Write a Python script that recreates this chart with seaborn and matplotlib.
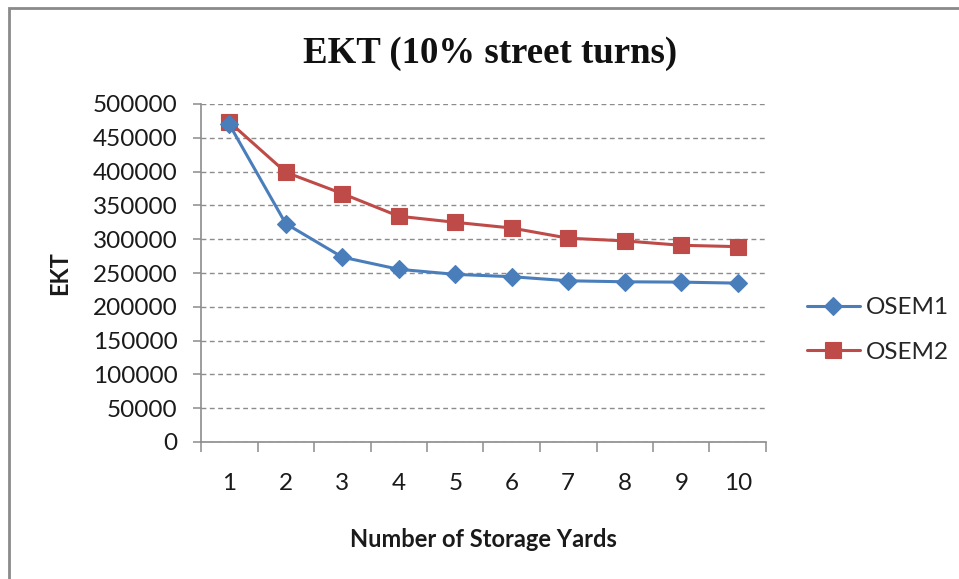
import matplotlib
matplotlib.use("Agg")
import matplotlib.pyplot as plt
import matplotlib.patches as mpatches
import numpy as np
import pandas as pd
import seaborn as sns

# Number of storage yards and expected kilometres travelled per scheme
yards = [1, 2, 3, 4, 5, 6, 7, 8, 9, 10]
osem1 = [470000, 323000, 273500, 255500, 248000, 244500, 238500, 237000, 236500, 235000]
osem2 = [473500, 399000, 367500, 334000, 325000, 316500, 301500, 297500, 291000, 289000]
series_names = ["OSEM1", "OSEM2"]
y_ticks = [0, 50000, 100000, 150000, 200000, 250000, 300000, 350000, 400000, 450000, 500000]

title_text = "EKT (10% street turns)"
x_label = "Number of Storage Yards"
y_label = "EKT"

df = pd.DataFrame({
    "yards": yards * 2,
    "EKT": osem1 + osem2,
    "series": [series_names[0]] * len(yards) + [series_names[1]] * len(yards),
})

sns.set_theme(style="white")
plt.rcParams["font.family"] = ["Lato", "DejaVu Sans"]

W, H = 959, 579
fig = plt.figure(figsize=(W / 100, H / 100), dpi=100)
fig.patch.set_facecolor("white")

# outer chart frame
fig.patches.append(mpatches.Rectangle((9 / W, -0.1), 1.2, 1 - 8 / H + 0.1,
                                      transform=fig.transFigure, fill=False,
                                      edgecolor="#8a8a8a", linewidth=2.0))

ax = fig.add_axes([201 / W, 1 - 442 / H, (766 - 201) / W, (442 - 104) / H])

palette = {"OSEM1": "#4a7ebb", "OSEM2": "#be4b48"}
markers = {"OSEM1": "D", "OSEM2": "s"}
sizes = {"OSEM1": 9, "OSEM2": 12}
for name in series_names:
    sub = df[df["series"] == name]
    sns.lineplot(data=sub, x="yards", y="EKT", ax=ax, color=palette[name],
                 marker=markers[name], markersize=sizes[name], markeredgewidth=0.8,
                 markeredgecolor=palette[name], linewidth=2.2, label=name,
                 legend=False, zorder=3 if name == "OSEM1" else 2)

ax.set_xlim(0.5, 10.5)
ax.set_ylim(0, 500000)
ax.set_yticks(y_ticks)
ax.set_yticklabels([str(v) for v in y_ticks])
ax.set_xticks(yards)
ax.set_xticklabels([str(v) for v in yards])
ax.xaxis.set_minor_locator(matplotlib.ticker.FixedLocator(np.arange(0.5, 10.6, 1.0)))

ax.grid(axis="y", linestyle=(0, (3.5, 2.5)), color="#8c8c8c", linewidth=1.0)
ax.set_axisbelow(True)
for s in ["top", "right"]:
    ax.spines[s].set_visible(False)
for s in ["left", "bottom"]:
    ax.spines[s].set_color("#8c8c8c")
    ax.spines[s].set_linewidth(1.2)

ax.tick_params(axis="y", which="major", direction="out", length=6, width=1.1,
               color="#8c8c8c", left=True, labelsize=17.5, pad=11, labelcolor="#1a1a1a")
ax.tick_params(axis="x", which="major", length=0, labelsize=17.5, pad=22, labelcolor="#1a1a1a")
ax.tick_params(axis="x", which="minor", direction="out", length=7, width=1.1,
               color="#8c8c8c", bottom=True)

ax.set_xlabel(x_label, fontsize=17, fontweight="bold", color="#1a1a1a")
ax.xaxis.label.set_va("baseline")
ax.xaxis.set_label_coords(0.5, (442 - 547) / 338)
ax.set_ylabel(y_label, fontsize=17, fontweight="bold", color="#1a1a1a")
ax.yaxis.label.set_va("center")
ax.yaxis.set_label_coords((60 - 201) / 565, 0.5)

fig.text(490 / W, 1 - 63 / H, title_text, ha="center", va="baseline",
         fontsize=26.5, fontweight="bold", family="Liberation Serif", color="#111111")

handles, labels = ax.get_legend_handles_labels()
fig.legend(handles, labels, loc="center left", bbox_to_anchor=(807 / W, 1 - 330 / H),
           frameon=False, fontsize=17.5, handlelength=2.18, handletextpad=0.25,
           labelspacing=0.95, borderaxespad=0, borderpad=0)

fig.savefig("out.png", dpi=100, facecolor="white")
